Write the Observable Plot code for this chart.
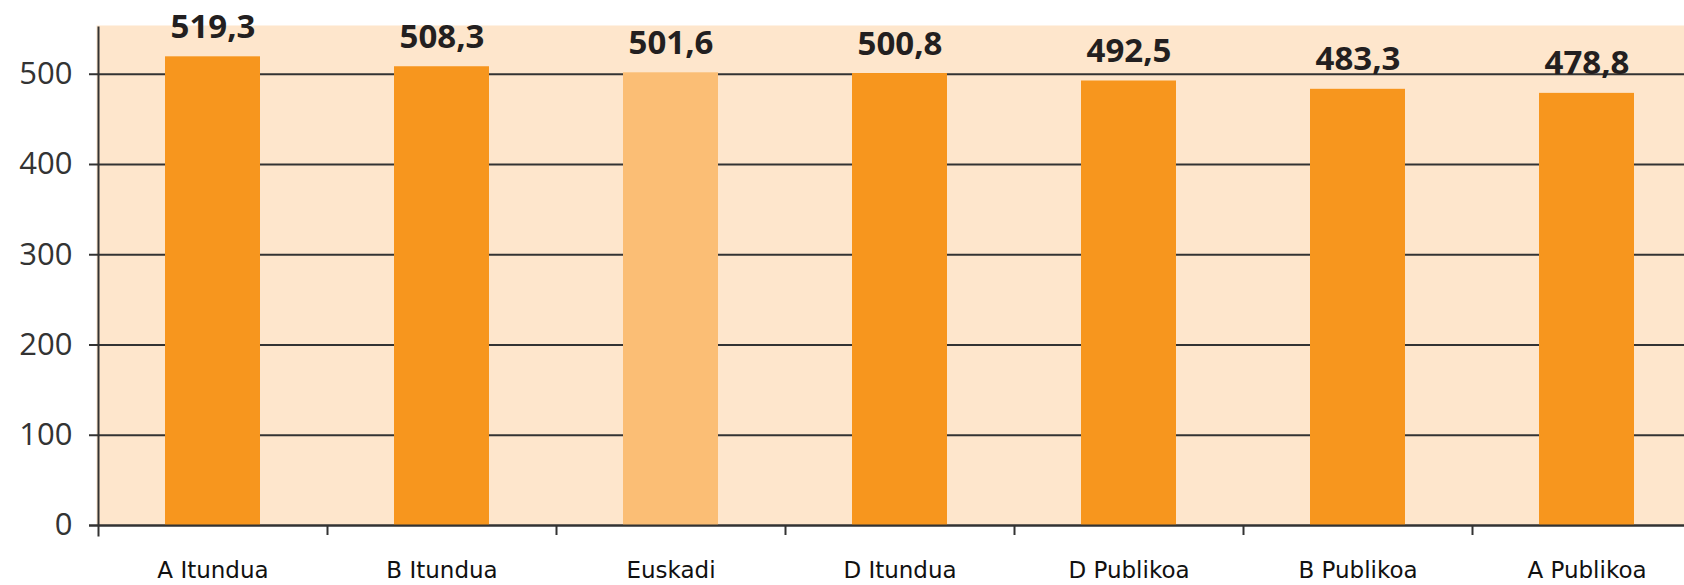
<!DOCTYPE html>
<html>
<head>
<meta charset="utf-8">
<script src="https://cdn.jsdelivr.net/npm/d3@7"></script>
<script src="https://cdn.jsdelivr.net/npm/@observablehq/plot@0.6"></script>
<style>
  html, body { margin: 0; padding: 0; background: #ffffff; overflow: hidden; }
  #chart { width: 1684px; height: 585px; overflow: hidden; }
</style>
</head>
<body>
<div id="chart"></div>
<script>
const categories = ["A Itundua", "B Itundua", "Euskadi", "D Itundua", "D Publikoa", "B Publikoa", "A Publikoa"];
const values = [519.3, 508.3, 501.6, 500.8, 492.5, 483.3, 478.8];
const highlight = ["Euskadi"];
const yTicks = [0, 100, 200, 300, 400, 500];

const data = categories.map((c, i) => ({category: c, value: values[i]}));

const W = 1684, H = 585;
const marginLeft = 98, marginRight = -17, marginTop = 25, marginBottom = 60;
const bandwidth = (W - marginRight - marginLeft) / categories.length;
const barInset = (bandwidth - 95) / 2;
const fmt = v => v.toFixed(1).replace(".", ",");

const chart = Plot.plot({
  width: W,
  height: H,
  marginLeft, marginRight, marginTop, marginBottom,
  style: {background: "transparent", overflow: "hidden"},
  x: {domain: categories, padding: 0},
  y: {domain: [0, 554]},
  marks: [
    Plot.frame({fill: "#fee6cc", stroke: null, insetLeft: -2}),
    Plot.gridY(yTicks, {stroke: "#333333", strokeOpacity: 1, strokeWidth: 2}),
    Plot.axisY(yTicks, {
      tickSize: 9, tickPadding: 17, stroke: "#333333", strokeWidth: 2,
      fontSize: 31, fontFamily: "Open Sans", fill: "#333333", label: null
    }),
    Plot.barY(data, {
      x: "category", y: "value",
      fill: d => highlight.includes(d.category) ? "#fbbe75" : "#f7961e",
      insetLeft: barInset, insetRight: barInset
    }),
    Plot.ruleY([0], {stroke: "#333333", strokeWidth: 2, insetLeft: -9}),
    Plot.frame({anchor: "left", stroke: "#333333", strokeWidth: 2, insetTop: 2, insetBottom: -10}),
    Plot.ruleX(categories.slice(1), {
      x: d => d, dx: -bandwidth / 2, y1: 0, y2: 0, insetBottom: -10,
      stroke: "#333333", strokeWidth: 2
    }),
    Plot.axisX({
      tickSize: 0, tickPadding: 36, fontSize: 23, fontFamily: "DejaVu Sans",
      fill: "#111111", label: null
    }),
    Plot.text(data, {
      x: "category", y: "value", text: d => fmt(d.value),
      dy: -19, lineAnchor: "bottom", fontSize: 33, fontWeight: "bold",
      fontFamily: "Open Sans", fill: "#231f20"
    })
  ]
});

document.getElementById("chart").appendChild(chart);
</script>
</body>
</html>
